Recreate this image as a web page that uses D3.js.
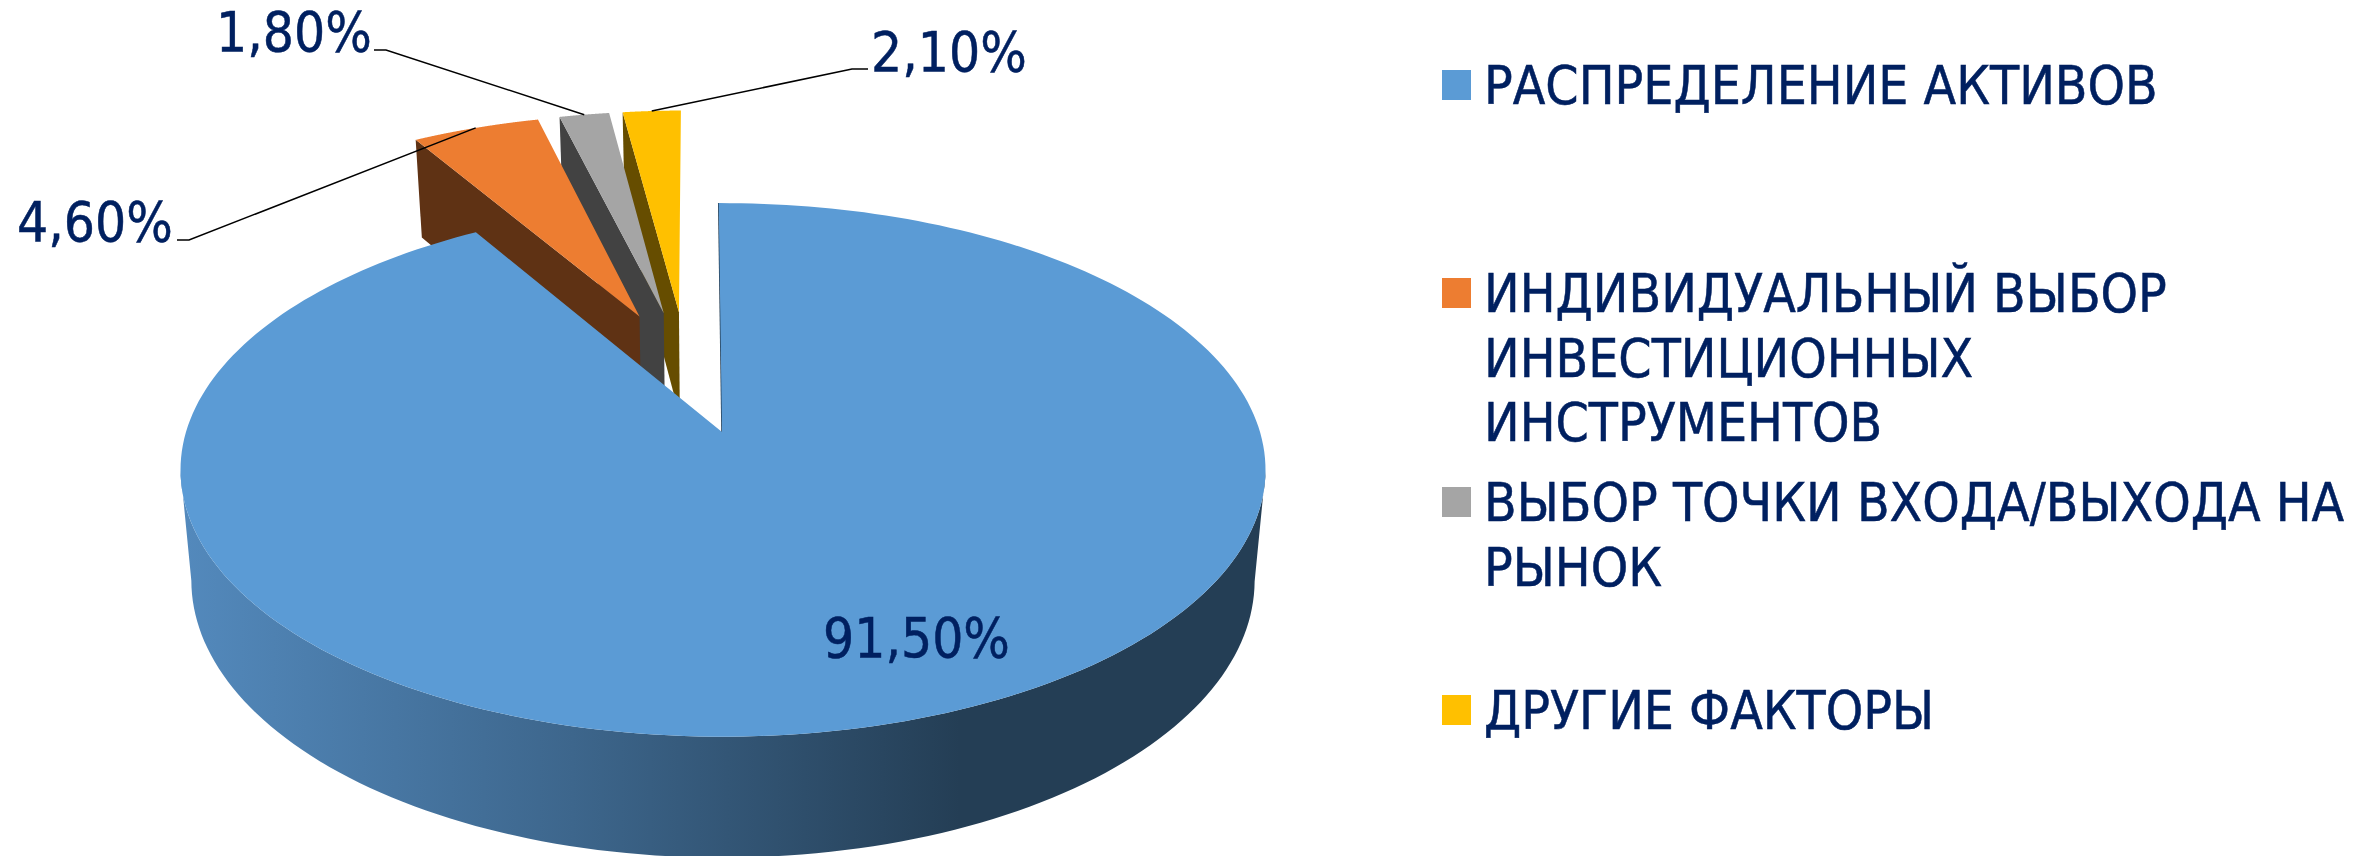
<!DOCTYPE html>
<html lang="ru">
<head>
    <meta charset="UTF-8">
    <title>Распределение активов</title>
    <script src="https://d3js.org/d3.v7.min.js"></script>
    <style>
        body { margin: 0; background: #fff; }
        svg { display: block; }
        text {
            font-family: "DejaVu Sans Condensed", "DejaVu Sans", sans-serif;
            font-stretch: condensed;
            font-size: 53px;
            fill: #002060;
            stroke: #002060;
            stroke-width: 0.5;
        }
        .value { font-size: 54.5px; }
    </style>
</head>
<body>
    <svg width="2377" height="856"></svg>
    <script>
        const categories = ["РАСПРЕДЕЛЕНИЕ АКТИВОВ", "ИНДИВИДУАЛЬНЫЙ ВЫБОР ИНВЕСТИЦИОННЫХ ИНСТРУМЕНТОВ", "ВЫБОР ТОЧКИ ВХОДА/ВЫХОДА НА РЫНОК", "ДРУГИЕ ФАКТОРЫ"];
        const values = [91.5, 4.6, 1.8, 2.1];
        const valueLabels = ["91,50%", "4,60%", "1,80%", "2,10%"];
        const colors = ["#5B9BD5", "#ED7D31", "#A5A5A5", "#FFC000"];
        const legendLines = [
            ["РАСПРЕДЕЛЕНИЕ АКТИВОВ"],
            ["ИНДИВИДУАЛЬНЫЙ ВЫБОР", "ИНВЕСТИЦИОННЫХ", "ИНСТРУМЕНТОВ"],
            ["ВЫБОР ТОЧКИ ВХОДА/ВЫХОДА НА", "РЫНОК"],
            ["ДРУГИЕ ФАКТОРЫ"]
        ];

        // layout, in px
        const legendBaselines = [104, 312, 521, 729];
        const legendLineHeight = 64.7;
        const labelPos = [[823, 657], [17, 241], [216, 51], [871, 71]];
        const leaderElbow = [null, [[177, 240], [189, 240]], [[374, 50], [386, 50]], [[868, 69], [852, 69]]];

        const svg = d3.select("svg");
        const color = d3.scaleOrdinal().domain(categories).range(colors);

        // projection of the tilted disc: u to the right, v towards the viewer
        const cx = 722, cy = 432, k = 0.142;
        const xScale = d3.scaleLinear().domain([-1, 0, 1]).range([cx - 536, cx, cx + 538]);
        const yScale = d3.scaleLinear().domain([-1, 1]).range([cy - 261.4, cy + 261.4]);
        const depth = 109, shrink = 0.98, explode = 0.25, rot = -0.007;

        function topPt(u, v) {
            const s = 1 / (1 - k * v);
            return [cx + (xScale(u) - cx) * s, cy + (yScale(v) - cy) * s];
        }
        function bottomPt(u, v) {
            const s = 1 / (1 - k * v);
            const p = topPt(u, v);
            return [cx + (p[0] - cx) * shrink, cy + (p[1] - cy) * shrink + depth * s];
        }

        const slices = d3.pie().sort(null).value(d => d.value)
            .startAngle(rot).endAngle(2 * Math.PI + rot)(
                categories.map((c, i) => ({ name: c, value: values[i], i: i }))
            );

        // every slice is pulled out of a shared centre, the big one lands on (0,0)
        const big = (slices[0].startAngle + slices[0].endAngle) / 2;
        const u0 = -explode * Math.sin(big), v0 = explode * Math.cos(big);
        slices.forEach(d => {
            const mid = (d.startAngle + d.endAngle) / 2;
            d.i = d.data.i;
            d.mid = mid;
            d.u = u0 + explode * Math.sin(mid);
            d.v = v0 - explode * Math.cos(mid);
            d.angles = d3.range(0, 241).map(j => d.startAngle + (d.endAngle - d.startAngle) * j / 240);
        });

        const line = d3.line();
        const rim = (d, a, f) => f(d.u + Math.sin(a), d.v - Math.cos(a));
        const wallColor = c => {
            const r = d3.rgb(c);
            return d3.rgb(r.r * 0.4, r.g * 0.4, r.b * 0.4).formatHex();
        };

        const grad = svg.append("defs").append("linearGradient")
            .attr("id", "wall")
            .attr("gradientUnits", "userSpaceOnUse")
            .attr("x1", 185).attr("x2", 960).attr("y1", 0).attr("y2", 0);
        grad.append("stop").attr("offset", 0).attr("stop-color", "#5389BC");
        grad.append("stop").attr("offset", 0.5).attr("stop-color", "#3D668C");
        grad.append("stop").attr("offset", 1).attr("stop-color", wallColor(colors[0]));

        // cut walls of the small slices, right to left, tops go over them later
        [slices[3], slices[2], slices[1]].forEach(d => {
            svg.append("path")
                .attr("d", line([topPt(d.u, d.v), rim(d, d.startAngle, topPt), rim(d, d.startAngle, bottomPt), bottomPt(d.u, d.v)]) + "Z")
                .attr("fill", wallColor(color(d.data.name)));
        });
        [slices[1], slices[2], slices[3]].forEach(d => {
            svg.append("path")
                .attr("d", line([topPt(d.u, d.v)].concat(d.angles.map(a => rim(d, a, topPt)))) + "Z")
                .attr("fill", color(d.data.name));
        });

        // big slice: only the part of the side that faces the viewer
        const b = slices[0];
        const front = b.angles.filter(a => -Math.cos(a) >= k);
        svg.append("path")
            .attr("d", line(front.map(a => rim(b, a, topPt)).concat(front.slice().reverse().map(a => rim(b, a, bottomPt)))) + "Z")
            .attr("fill", "url(#wall)");
        svg.append("path")
            .attr("d", line([topPt(b.u, b.v), rim(b, b.startAngle, topPt)]))
            .attr("fill", "none")
            .attr("stroke", wallColor(color(b.data.name)))
            .attr("stroke-width", 1.5);
        svg.append("path")
            .attr("d", line([topPt(b.u, b.v)].concat(b.angles.map(a => rim(b, a, topPt)))) + "Z")
            .attr("fill", color(b.data.name));

        // leader lines
        slices.forEach(d => {
            if (!leaderElbow[d.i]) return;
            const pts = leaderElbow[d.i].concat([rim(d, d.mid, topPt)]);
            svg.append("path")
                .attr("d", line(pts))
                .attr("fill", "none")
                .attr("stroke", "#000")
                .attr("stroke-width", 1.5);
        });

        // value labels
        svg.selectAll(".value")
            .data(valueLabels)
            .enter().append("text")
            .attr("class", "value")
            .attr("x", (d, i) => labelPos[i][0])
            .attr("y", (d, i) => labelPos[i][1])
            .text(d => d);

        // legend
        categories.forEach((c, i) => {
            svg.append("rect")
                .attr("x", 1442)
                .attr("y", legendBaselines[i] - 34)
                .attr("width", 29)
                .attr("height", 30)
                .attr("fill", color(c));
            legendLines[i].forEach((t, j) => {
                svg.append("text")
                    .attr("x", 1484)
                    .attr("y", legendBaselines[i] + j * legendLineHeight)
                    .text(t);
            });
        });
    </script>
</body>
</html>
